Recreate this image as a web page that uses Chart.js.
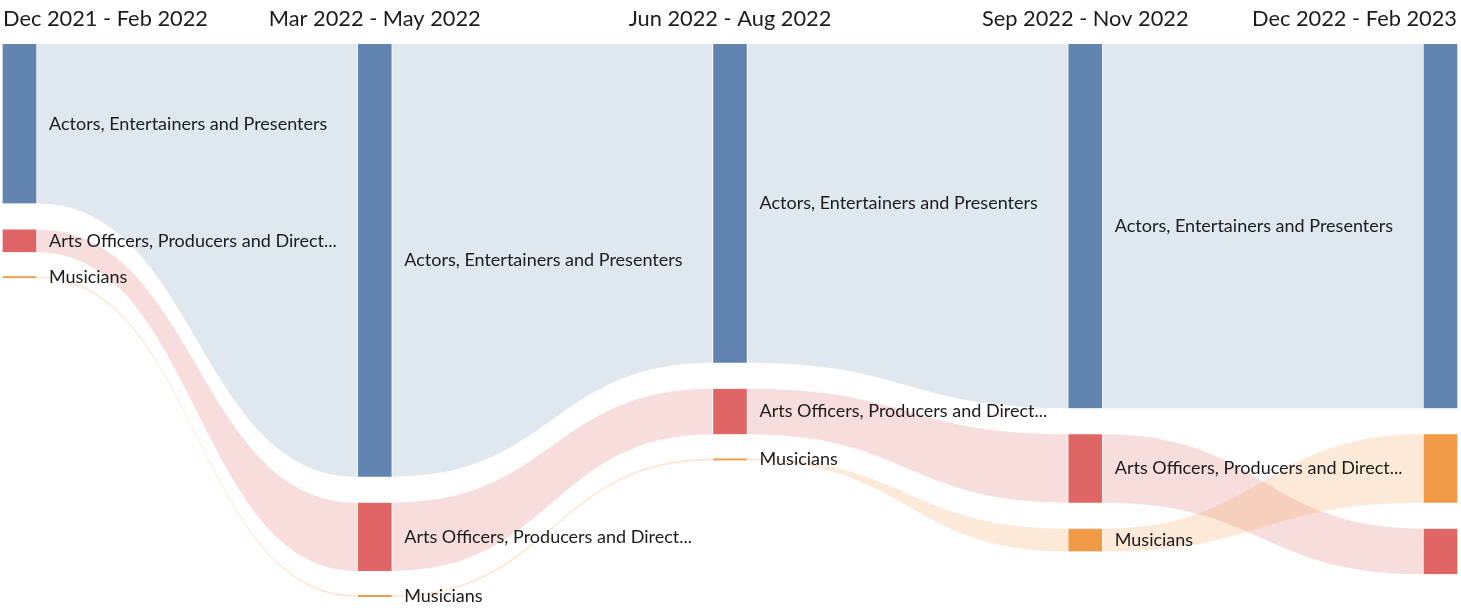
<!DOCTYPE html>
<html>
<head>
<meta charset="utf-8">
<title>Occupations by quarter</title>
<script src="https://cdn.jsdelivr.net/npm/chart.js@4.4.0/dist/chart.umd.min.js"></script>
<style>
  body { margin: 0; background: #fff; }
  #wrap { width: 1461px; height: 613px; }
</style>
</head>
<body>
<div id="wrap"><canvas id="flowChart" width="1461" height="613"></canvas></div>
<script>
const periods = ['Dec 2021 - Feb 2022', 'Mar 2022 - May 2022', 'Jun 2022 - Aug 2022', 'Sep 2022 - Nov 2022', 'Dec 2022 - Feb 2023'];
const categories = ['Actors, Entertainers and Presenters', 'Arts Officers, Producers and Directors', 'Musicians'];
const actorsValues = [7, 19, 14, 16, 16];
const artsValues = [1, 3, 2, 3, 2];
const musiciansValues = [0, 0, 0, 1, 3];

const nodeColors = ['#6185b0', '#e06666', '#f09a48'];
const flowColors = ['rgba(97,133,176,0.2)', 'rgba(224,102,102,0.22)', 'rgba(240,154,72,0.22)'];
const textColor = '#1c1c1c';
const nodeGap = 26 / 22.75; // space between nodes, in value units
const labelMaxWidth = 293;

const seriesValues = [actorsValues, artsValues, musiciansValues];

// stack the nodes of each period, biggest first
const ranges = seriesValues.map(() => []);
let maxTotal = 0;
periods.forEach((p, i) => {
  const order = seriesValues.map((s, k) => k).sort((a, b) => seriesValues[b][i] - seriesValues[a][i]);
  let start = 0;
  order.forEach(k => {
    const v = seriesValues[k][i];
    ranges[k][i] = [start, start + v];
    start += v + nodeGap;
  });
  maxTotal = Math.max(maxTotal, start - nodeGap);
});

function barBox(bar) {
  return {
    left: bar.x - bar.width / 2,
    right: bar.x + bar.width / 2,
    top: Math.min(bar.y, bar.base),
    bottom: Math.max(bar.y, bar.base)
  };
}

function fitText(ctx, text, maxWidth) {
  if (ctx.measureText(text).width <= maxWidth) return text;
  let t = text;
  while (t.length > 1 && ctx.measureText(t + '...').width > maxWidth) {
    t = t.slice(0, -1);
  }
  return t.trimEnd() + '...';
}

const flowPlugin = {
  id: 'flows',
  beforeDatasetsDraw(chart) {
    const ctx = chart.ctx;
    ctx.save();
    chart.data.datasets.forEach((ds, k) => {
      const bars = chart.getDatasetMeta(k).data;
      for (let i = 0; i < bars.length - 1; i++) {
        const a = barBox(bars[i]);
        const b = barBox(bars[i + 1]);
        const x0 = a.right, x1 = b.left;
        const xm = (x0 + x1) / 2;
        ctx.beginPath();
        ctx.moveTo(x0, a.top);
        ctx.bezierCurveTo(xm, a.top, xm, b.top, x1, b.top);
        ctx.lineTo(x1, b.bottom);
        ctx.bezierCurveTo(xm, b.bottom, xm, a.bottom, x0, a.bottom);
        ctx.closePath();
        ctx.fillStyle = flowColors[k];
        ctx.fill();
      }
    });
    ctx.restore();
  }
};

const labelPlugin = {
  id: 'labels',
  afterDatasetsDraw(chart) {
    const ctx = chart.ctx;
    const xScale = chart.scales.x;
    ctx.save();
    ctx.fillStyle = textColor;

    // node labels, not on the last period
    ctx.font = '18px Lato';
    ctx.textAlign = 'left';
    ctx.textBaseline = 'middle';
    chart.data.datasets.forEach((ds, k) => {
      const bars = chart.getDatasetMeta(k).data;
      for (let i = 0; i < bars.length - 1; i++) {
        const box = barBox(bars[i]);
        const text = fitText(ctx, categories[k], labelMaxWidth);
        ctx.fillText(text, box.right + 12, (box.top + box.bottom) / 2);
      }
    });

    // period headers
    ctx.font = '21.8px Lato';
    ctx.textBaseline = 'alphabetic';
    const bars = chart.getDatasetMeta(0).data;
    periods.forEach((p, i) => {
      const box = barBox(bars[i]);
      let x = xScale.getPixelForValue(i);
      if (i === 0) {
        ctx.textAlign = 'left';
        x = box.left + 1;
      } else if (i === periods.length - 1) {
        ctx.textAlign = 'right';
        x = box.right - 1;
      } else {
        ctx.textAlign = 'center';
      }
      ctx.fillText(p, x, 26);
    });
    ctx.restore();
  }
};

const ctx = document.getElementById('flowChart').getContext('2d');
new Chart(ctx, {
  type: 'bar',
  data: {
    labels: periods,
    datasets: categories.map((name, k) => ({
      label: name,
      data: ranges[k],
      backgroundColor: nodeColors[k],
      borderColor: '#ffffff',
      borderWidth: { left: 1, right: 1, top: 0, bottom: 0 },
      borderSkipped: false,
      barThickness: 35,
      minBarLength: 2,
      grouped: false,
      clip: false
    }))
  },
  options: {
    responsive: false,
    animation: false,
    layout: {
      padding: { left: 19.5, right: 20.5, top: 44, bottom: 16 }
    },
    scales: {
      x: { type: 'category', offset: false, display: false },
      y: { min: 0, max: maxTotal, reverse: true, display: false }
    },
    plugins: {
      legend: { display: false },
      tooltip: { enabled: false }
    }
  },
  plugins: [flowPlugin, labelPlugin]
});
</script>
</body>
</html>
